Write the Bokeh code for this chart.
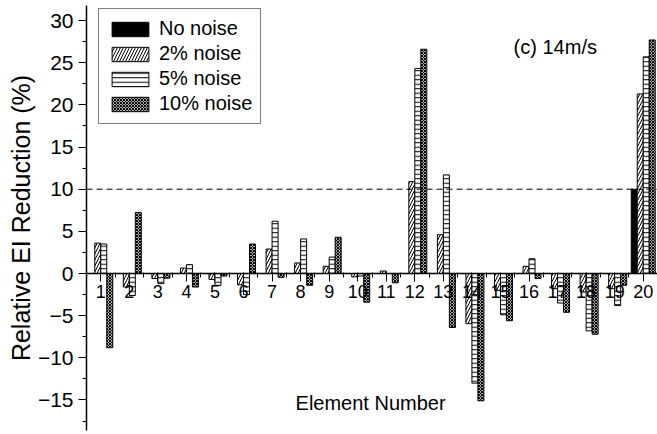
from bokeh.plotting import figure
from bokeh.models import (ColumnDataSource, Span, Label, Legend, LegendItem,
                          SingleIntervalTicker)
from bokeh.transform import dodge
from bokeh.embed import file_html
from bokeh.resources import INLINE

# Relative EI reduction (%) per element, for each noise level
elements = list(range(1, 21))
no_noise = [0, 0, 0, 0, 0, 0, 0, 0, 0, 0, 0, 0, 0, 0, 0, 0, 0, 0, 0, 10.0]
noise_2 = [3.6, -1.6, -0.6, 0.65, -0.7, -1.35, 2.9, 1.25, 0.85, -0.4,
           0.3, 10.9, 4.6, -5.95, -2.0, 0.85, -1.8, -2.2, -1.8, 21.3]
noise_5 = [3.5, -2.6, -1.2, 1.05, -1.4, -2.5, 6.2, 4.1, 1.95, -0.3,
           0.0, 24.3, 11.7, -13.0, -4.9, 1.75, -3.5, -6.8, -3.8, 25.7]
noise_10 = [-8.8, 7.25, -0.55, -1.6, -0.3, 3.5, -0.45, -1.4, 4.3, -3.4,
            -1.1, 26.6, -6.4, -15.1, -5.6, -0.6, -4.6, -7.2, -1.4, 27.7]
series_names = ["No noise", "2% noise", "5% noise", "10% noise"]
threshold = 10

source = ColumnDataSource(dict(element=elements, n0=no_noise, n2=noise_2,
                               n5=noise_5, n10=noise_10))

FONT = "Liberation Sans"

p = figure(width=657, height=434, x_range=(0.5, 20.5), y_range=(-18.62, 31.79),
           output_backend="svg", toolbar_location=None,
           min_border_left=86, min_border_right=0, min_border_top=5,
           min_border_bottom=4)
p.outline_line_color = None
p.xgrid.visible = False
p.ygrid.visible = False
p.background_fill_color = "white"
p.border_fill_color = "white"

bar_w = 0.21
styles = [
    dict(col="n0", off=-0.315, fill_color="black", hatch_pattern=None, hatch_scale=12, hatch_weight=1),
    dict(col="n2", off=-0.105, fill_color="white", hatch_pattern="/", hatch_scale=6, hatch_weight=1),
    dict(col="n5", off=0.105, fill_color="white", hatch_pattern="-", hatch_scale=4.5, hatch_weight=1),
    dict(col="n10", off=0.315, fill_color="white", hatch_pattern="x", hatch_scale=3, hatch_weight=1.2),
]

# threshold line
p.add_layout(Span(location=threshold, dimension="width", line_color="black",
                  line_width=1, line_dash="6 4"))

renderers = []
for st in styles:
    r = p.vbar(x=dodge("element", st["off"], range=p.x_range), top=st["col"],
               bottom=0, width=bar_w, source=source,
               fill_color=st["fill_color"], line_color="black", line_width=1,
               hatch_pattern=st["hatch_pattern"], hatch_color="black",
               hatch_weight=st["hatch_weight"], hatch_scale=st["hatch_scale"])
    renderers.append(r)

# x axis drawn through zero
xa = p.xaxis[0]
xa.fixed_location = 0
xa.ticker = SingleIntervalTicker(interval=1, num_minor_ticks=2)
xa.axis_line_width = 1.5
xa.axis_line_color = "black"
xa.major_tick_line_color = "black"
xa.minor_tick_line_color = "black"
xa.major_tick_out = 8
xa.major_tick_in = 0
xa.minor_tick_out = 4
xa.minor_tick_in = 1
xa.major_label_standoff = 3
xa.major_label_text_font = FONT
xa.major_label_text_font_size = "18px"
xa.major_label_text_color = "black"

ya = p.yaxis[0]
ya.ticker = SingleIntervalTicker(interval=5, num_minor_ticks=2)
ya.axis_line_width = 1.5
ya.axis_line_color = "black"
ya.major_tick_line_color = "black"
ya.minor_tick_line_color = "black"
ya.major_tick_out = 8
ya.major_tick_in = 0
ya.minor_tick_out = 4
ya.minor_tick_in = 0
ya.major_label_standoff = 5
ya.major_label_text_font = FONT
ya.major_label_text_font_size = "21px"
ya.major_label_text_color = "black"
ya.axis_label = "Relative EI Reduction (%)"
ya.axis_label_text_font = FONT
ya.axis_label_text_font_size = "25px"
ya.axis_label_text_font_style = "normal"
ya.axis_label_text_color = "black"
ya.axis_label_standoff = 0

p.add_layout(Label(x=10.45, y=-15.4, text="Element Number", text_font=FONT,
                   text_font_size="20px", text_align="center",
                   text_baseline="middle", text_color="black"))
p.add_layout(Label(x=15.46, y=26.9, text="(c) 14m/s", text_font=FONT,
                   text_font_size="20px", text_align="left",
                   text_baseline="middle", text_color="black"))

legend = Legend(items=[LegendItem(label=n, renderers=[r])
                       for n, r in zip(series_names, renderers)],
                location=(12, 306), orientation="vertical",
                glyph_width=46, glyph_height=18, label_height=18,
                label_standoff=6, spacing=2, padding=8, margin=0,
                label_text_font=FONT, label_text_font_size="20px",
                label_text_color="black",
                border_line_color="black", border_line_width=1,
                background_fill_color="white", background_fill_alpha=1)
p.add_layout(legend)

open("out.html", "w").write(file_html(p, INLINE))
